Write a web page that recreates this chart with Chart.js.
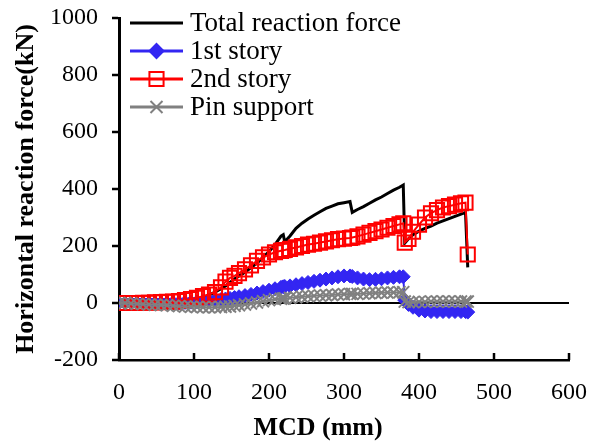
<!DOCTYPE html>
<html>
<head>
<meta charset="utf-8">
<script src="https://cdn.jsdelivr.net/npm/chart.js@4.4.1/dist/chart.umd.min.js"></script>
<style>
    html, body { margin: 0; padding: 0; background: #fff; }
    #wrap { width: 593px; height: 445px; }
</style>
</head>
<body>
<div id="wrap"><canvas id="reaction-chart" width="593" height="445"></canvas></div>
<script>
// values (MCD in mm, forces in kN)
const mcd = [0, 8, 16, 24, 32, 40, 48, 56, 64, 72, 80, 88, 96, 104, 112, 120, 128, 136, 142, 148,
    154, 160, 168, 176, 184, 192, 200, 208, 216, 219, 221, 228, 236, 244, 252, 260, 268, 276, 284, 292,
    300, 308, 311, 318, 326, 334, 342, 350, 358, 366, 374, 379, 381, 386, 392, 400, 408, 416, 424, 432,
    440, 448, 456, 462, 465]
const totalForce = [0, 0, 0, 0, 0, 0, 0, 1, 2, 3, 5, 7, 10, 14, 20, 28, 38, 50, 60, 72,
    84, 95, 108, 124, 140, 160, 180, 205, 235, 240, 215, 235, 262, 280, 295, 308, 320, 332, 340, 348,
    352, 356, 318, 328, 338, 350, 362, 372, 384, 396, 406, 414, 210, 225, 240, 252, 262, 270, 280, 288,
    296, 304, 312, 318, 125]
const story1 = [0, 0, 0, 0, 0, 0, 0, 0, 0, 1, 1, 2, 3, 4, 6, 8, 10, 12, 14, 16,
    19, 22, 26, 30, 35, 40, 45, 50, 55, 57, 58, 60, 64, 68, 72, 76, 80, 84, 88, 92,
    95, 95, 93, 88, 84, 82, 83, 85, 88, 90, 92, 92, 10, -5, -15, -25, -28, -30, -30, -30,
    -30, -30, -30, -30, -32]
const story2 = [0, 0, 0, 0, 1, 1, 2, 3, 4, 5, 7, 10, 14, 18, 24, 30, 38, 55, 75, 88,
    95, 105, 118, 132, 148, 160, 170, 178, 183, 185, 186, 190, 195, 200, 205, 208, 212, 216, 220, 224,
    226, 228, 230, 234, 240, 246, 252, 258, 264, 270, 276, 280, 212, 225, 250, 275, 300, 315, 326, 335,
    340, 345, 350, 352, 170]
const pinSupport = [0, 0, -2, -3, -4, -5, -6, -7, -8, -10, -11, -12, -13, -14, -15, -15, -15, -14, -13, -12,
    -10, -8, -5, -2, 2, 6, 10, 13, 15, 16, 16, 18, 20, 22, 24, 25, 26, 27, 28, 30,
    31, 32, 32, 32, 33, 34, 35, 36, 37, 37, 38, 38, 5, 3, 3, 4, 4, 5, 5, 5,
    5, 5, 5, 5, 5]
const seriesNames = ["Total reaction force", "1st story", "2nd story", "Pin support"]
const xTicks = [0, 100, 200, 300, 400, 500, 600]
const yTicks = [-200, 0, 200, 400, 600, 800, 1000]

const serif = "'Liberation Serif', 'Times New Roman', serif"

function points(ys) {
    return mcd.map((x, i) => ({ x: x, y: ys[i] }))
}

function drawMarker(ctx, style, x, y, r, color, filled) {
    ctx.save()
    ctx.strokeStyle = color
    ctx.fillStyle = color
    ctx.lineWidth = 2
    ctx.beginPath()
    if (style == "rectRot") {
        ctx.moveTo(x, y - r)
        ctx.lineTo(x + r, y)
        ctx.lineTo(x, y + r)
        ctx.lineTo(x - r, y)
        ctx.closePath()
    } else if (style == "rect") {
        const s = r * Math.SQRT1_2
        ctx.rect(x - s, y - s, 2 * s, 2 * s)
    } else if (style == "crossRot") {
        const s = r * Math.SQRT1_2
        ctx.moveTo(x - s, y - s)
        ctx.lineTo(x + s, y + s)
        ctx.moveTo(x - s, y + s)
        ctx.lineTo(x + s, y - s)
    }
    if (filled) ctx.fill()
    ctx.stroke()
    ctx.restore()
}

// legend sits inside the plot, like the excel one
const insideLegend = {
    id: "insideLegend",
    afterDraw(chart) {
        const ctx = chart.ctx
        const area = chart.chartArea
        const x0 = area.left + 11
        const x1 = area.left + 64
        chart.data.datasets.forEach((ds, i) => {
            const y = area.top + 5 + i * 28
            ctx.save()
            ctx.strokeStyle = ds.borderColor
            ctx.lineWidth = 3
            ctx.beginPath()
            ctx.moveTo(x0, y)
            ctx.lineTo(x1, y)
            ctx.stroke()
            ctx.restore()
            if (ds.pointStyle) {
                drawMarker(ctx, ds.pointStyle, (x0 + x1) / 2, y, ds.pointRadius,
                    ds.pointBorderColor, ds.pointBackgroundColor != "transparent")
            }
            ctx.save()
            ctx.fillStyle = "#000"
            ctx.font = "27px " + serif
            ctx.textBaseline = "middle"
            ctx.fillText(ds.label, x1 + 7, y + 1)
            ctx.restore()
        })
    },
}

// x ticks point up into the plot
const innerTicks = {
    id: "innerTicks",
    afterDraw(chart) {
        const ctx = chart.ctx
        const sx = chart.scales.x
        const bottom = chart.chartArea.bottom
        ctx.save()
        ctx.strokeStyle = "#000"
        ctx.lineWidth = 2.5
        sx.ticks.forEach((t) => {
            const px = sx.getPixelForValue(t.value)
            ctx.beginPath()
            ctx.moveTo(px, bottom)
            ctx.lineTo(px, bottom - 7)
            ctx.stroke()
        })
        ctx.restore()
    },
}

const canvas = document.getElementById("reaction-chart")
const chart = new Chart(canvas, {
    type: "line",
    data: {
        datasets: [
            {
                label: seriesNames[0],
                data: points(totalForce),
                borderColor: "#000000",
                borderWidth: 3,
                pointRadius: 0,
                pointStyle: false,
                order: 4,
            },
            {
                label: seriesNames[1],
                data: points(story1),
                borderColor: "#3326f2",
                borderWidth: 2,
                pointStyle: "rectRot",
                pointRadius: 7,
                pointBackgroundColor: "#3326f2",
                pointBorderColor: "#3326f2",
                pointBorderWidth: 1,
                order: 3,
            },
            {
                label: seriesNames[2],
                data: points(story2),
                borderColor: "#ff0000",
                borderWidth: 2,
                pointStyle: "rect",
                pointRadius: 10,
                pointBackgroundColor: "transparent",
                pointBorderColor: "#ff0000",
                pointBorderWidth: 2,
                order: 2,
            },
            {
                label: seriesNames[3],
                data: points(pinSupport),
                borderColor: "#808080",
                borderWidth: 2,
                pointStyle: "crossRot",
                pointRadius: 8.5,
                pointBackgroundColor: "#808080",
                pointBorderColor: "#808080",
                pointBorderWidth: 2,
                order: 1,
            },
        ],
    },
    options: {
        responsive: false,
        animation: false,
        events: [],
        layout: { padding: { top: 18, right: 24, left: 0, bottom: 0 } },
        plugins: { legend: { display: false }, tooltip: { enabled: false } },
        scales: {
            x: {
                type: "linear",
                min: 0,
                max: 600,
                afterBuildTicks: (s) => { s.ticks = xTicks.map((v) => ({ value: v })) },
                afterFit: (s) => {
                    s.height = 85
                    s.paddingLeft = 0
                    s.paddingRight = 0
                },
                grid: { display: true, drawOnChartArea: false, drawTicks: false },
                border: { display: true, color: "#000", width: 2.5 },
                ticks: { color: "#000", font: { family: serif, size: 24 }, padding: 18, callback: (v) => String(v) },
                title: {
                    display: true,
                    // trailing spaces pull the centred title a bit left, as in the original
                    text: "MCD (mm)" + "\u00a0".repeat(8),
                    color: "#000",
                    font: { family: serif, size: 26, weight: "bold" },
                    padding: { top: 0, bottom: 1 },
                },
            },
            y: {
                min: -200,
                max: 1000,
                afterBuildTicks: (s) => { s.ticks = yTicks.map((v) => ({ value: v })) },
                afterFit: (s) => {
                    s.width = 119
                    s.paddingTop = 0
                    s.paddingBottom = 0
                },
                grid: {
                    drawOnChartArea: true,
                    color: (c) => (c.tick && c.tick.value == 0 ? "#000" : "rgba(0,0,0,0)"),
                    lineWidth: 2,
                    tickColor: "#000",
                    tickWidth: 2.5,
                    tickLength: 7,
                },
                border: { display: true, color: "#000", width: 3 },
                ticks: { color: "#000", font: { family: serif, size: 24 }, padding: 14, callback: (v) => String(v) },
                title: {
                    display: true,
                    text: "Horizontal reaction force(kN)",
                    color: "#000",
                    font: { family: serif, size: 26, weight: "bold" },
                    padding: { top: 11, bottom: 0 },
                },
            },
        },
    },
    plugins: [insideLegend, innerTicks],
})
</script>
</body>
</html>
